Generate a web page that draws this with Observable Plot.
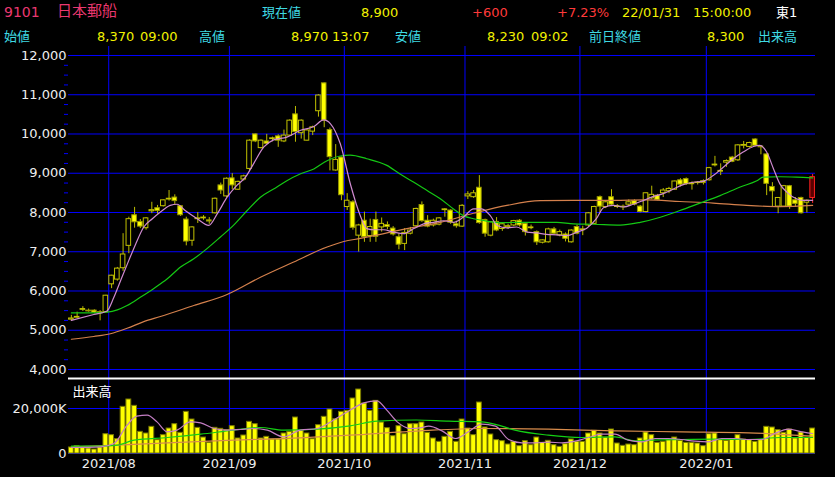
<!DOCTYPE html>
<html><head><meta charset="utf-8">
<script src="https://cdn.jsdelivr.net/npm/d3@7"></script>
<script src="https://cdn.jsdelivr.net/npm/@observablehq/plot@0.6"></script>
<style>
html,body{margin:0;padding:0;background:#000;width:835px;height:477px;overflow:hidden;}
#hdr{position:relative;width:835px;height:46px;font-family:"DejaVu Sans","Noto Sans CJK JP",sans-serif;font-size:13px;}
#hdr span{position:absolute;line-height:13px;white-space:pre;}
svg{display:block}
</style></head><body>
<div id="hdr"></div>
<div id="price"></div>
<div id="vol"></div>
<script>
// ---- data ----
const dates = ("2021/07/20 2021/07/21 2021/07/26 2021/07/27 2021/07/28 2021/07/29 2021/07/30 " +
"2021/08/02 2021/08/03 2021/08/04 2021/08/05 2021/08/06 2021/08/10 2021/08/11 2021/08/12 2021/08/13 2021/08/16 2021/08/17 2021/08/18 2021/08/19 2021/08/20 2021/08/23 2021/08/24 2021/08/25 2021/08/26 2021/08/27 2021/08/30 2021/08/31 " +
"2021/09/01 2021/09/02 2021/09/03 2021/09/06 2021/09/07 2021/09/08 2021/09/09 2021/09/10 2021/09/13 2021/09/14 2021/09/15 2021/09/16 2021/09/17 2021/09/21 2021/09/22 2021/09/24 2021/09/27 2021/09/28 2021/09/29 2021/09/30 " +
"2021/10/01 2021/10/04 2021/10/05 2021/10/06 2021/10/07 2021/10/08 2021/10/11 2021/10/12 2021/10/13 2021/10/14 2021/10/15 2021/10/18 2021/10/19 2021/10/20 2021/10/21 2021/10/22 2021/10/25 2021/10/26 2021/10/27 2021/10/28 2021/10/29 " +
"2021/11/01 2021/11/02 2021/11/04 2021/11/05 2021/11/08 2021/11/09 2021/11/10 2021/11/11 2021/11/12 2021/11/15 2021/11/16 2021/11/17 2021/11/18 2021/11/19 2021/11/22 2021/11/24 2021/11/25 2021/11/26 2021/11/29 2021/11/30 " +
"2021/12/01 2021/12/02 2021/12/03 2021/12/06 2021/12/07 2021/12/08 2021/12/09 2021/12/10 2021/12/13 2021/12/14 2021/12/15 2021/12/16 2021/12/17 2021/12/20 2021/12/21 2021/12/22 2021/12/23 2021/12/24 2021/12/27 2021/12/28 2021/12/29 2021/12/30 " +
"2022/01/04 2022/01/05 2022/01/06 2022/01/07 2022/01/11 2022/01/12 2022/01/13 2022/01/14 2022/01/17 2022/01/18 2022/01/19 2022/01/20 2022/01/21 2022/01/24 2022/01/25 2022/01/26 2022/01/27 2022/01/28 2022/01/31").split(" ");

const open = [5270,5320,5520,5500,5500,5460,5460,
6170,6290,6580,7150,7930,7760,7600,8030,8110,8160,8330,8380,8160,7820,7280,7830,7850,7800,7980,8690,8410,
8870,8580,8840,9110,9990,9640,9810,9870,9940,9810,9960,10500,10020,9830,10060,10580,11290,10100,9070,9400,
8140,8260,7410,7790,7400,7810,7620,7680,7590,7370,7200,7460,7650,8190,7790,7670,7690,8060,8050,7700,7640,
8410,8390,8630,7810,7410,7760,7580,7620,7670,7790,7710,7600,7500,7230,7240,7570,7420,7440,7240,7630,
7550,7670,7710,8390,8140,8390,8140,8150,8200,8290,8150,8010,8360,8430,8490,8540,8580,8820,8850,8720,8750,8800,
8820,9200,9040,9270,9400,9330,9700,9670,9860,9680,9480,8650,8150,8150,8670,8310,8370,8250,8370];
const high = [5380,5460,5600,5540,5520,5500,5890,
6400,6600,7460,7880,8130,7820,7870,8260,8180,8320,8560,8450,8170,7880,7640,8000,7920,7870,8370,8750,8880,
8990,8800,8950,9850,10000,9850,9990,9920,9980,10100,10360,10700,10360,10120,10200,11000,11300,10150,9730,9410,
8480,8300,7700,8010,7830,8010,7860,7760,7640,7460,7590,7620,8110,8270,7920,7830,7870,8100,8070,7780,8200,
8530,8560,8940,7830,7760,7870,7720,7700,7800,7820,7740,7680,7530,7300,7600,7620,7550,7480,7560,7680,
7650,8000,8160,8420,8300,8580,8200,8190,8320,8320,8180,8500,8670,8460,8610,8640,8800,8860,8880,8780,8790,8830,
9150,9430,9240,9340,9430,9730,9810,9790,9880,9700,9500,8760,8380,8690,8690,8380,8390,8320,8970];
const low = [5230,5300,5480,5460,5420,5240,5440,
6060,6250,6500,6950,7600,7590,7550,7970,7960,8140,8290,8200,7900,7150,7140,7720,7800,7700,7960,8460,8380,
8580,8560,8800,9060,9780,9620,9730,9800,9660,9780,9940,9790,9870,9820,9960,10430,10160,9060,9050,8300,
8050,7550,6990,7240,7240,7240,7500,7560,7400,7050,7030,7430,7600,7750,7610,7630,7660,7880,7700,7600,7620,
8330,8360,7700,7370,7380,7510,7520,7570,7640,7630,7400,7560,7160,7200,7220,7430,7380,7250,7220,7430,
7410,7640,7690,7980,8100,8180,8100,8050,8150,8170,7990,7990,8330,8300,8380,8480,8560,8650,8690,8570,8700,8700,
8800,9160,8940,9150,9270,9300,9620,9640,9680,9470,8430,8130,7970,8140,8080,8130,7960,7990,8230];
const close = [5300,5340,5540,5480,5450,5430,5880,
6390,6570,6930,7830,7750,7640,7850,8060,8040,8310,8350,8290,7930,7260,7620,7850,7870,7770,8350,8560,8860,
8690,8780,8920,9830,9810,9830,9750,9890,9830,9960,10340,10050,10340,10090,10170,10980,10340,9410,9340,8440,
8300,7610,7670,7370,7630,7380,7710,7630,7440,7180,7480,7540,8090,7780,7640,7790,7850,8080,7740,7650,8170,
8460,8490,7730,7460,7750,7540,7700,7650,7780,7670,7500,7620,7240,7290,7570,7460,7500,7330,7540,7460,
7570,7980,8140,8150,8260,8200,8160,8130,8260,8200,8010,8490,8450,8320,8560,8600,8790,8710,8720,8740,8760,8750,
9130,9220,9060,9310,9290,9710,9720,9770,9700,9660,8730,8540,8370,8670,8150,8220,7980,8300,8900];
// volume in thousands of shares (K)
const volumeK = [2670,3260,2670,2220,1780,2670,8590,
8150,6370,20740,24000,21180,9630,8890,11850,5930,8150,11100,13030,9190,18500,15100,11400,7100,4740,11400,10960,10370,
12150,6670,8000,14070,13030,6670,7400,6220,6220,8890,9630,16000,10070,8890,6370,12590,16300,19550,15250,18500,
18960,24440,28440,22220,18960,23400,13770,11260,7700,12150,8590,13030,13030,13770,9190,6670,5180,7400,9630,5180,15100,
11100,8150,22660,11550,8440,5930,5480,4000,5180,3260,5480,3700,7100,4740,5630,3700,2960,4150,6220,5180,
5180,8890,10070,8890,7100,10660,4440,3410,4000,3700,6670,9330,8150,4740,5180,5930,7100,5630,4740,4740,4440,3260,
8590,8890,5930,5630,6220,8150,6220,5930,5180,5930,11850,11550,10370,9190,10660,6670,9330,7100,11100];

// moving averages (position = candle index, value)
const priceMaShortPos = [0,3.9,6.2,7.4,8.8,10,11.2,12.6,14.1,15.5,17.2,18.4,19.8,21.9,23.9,25.4,27.1,28.8,30.3,31.7,33.5,35.2,37.5,39.8,42.2,43.9,45.1,46.8,48.6,50.2,51.4,52.6,54.3,56.1,57.8,59.6,61.3,63,64.8,66.5,68.2,70,71.4,72.9,74.1,75.8,77.5,79.3,81,82.7,84.5,86.2,88,89.7,91.4,92.6,94.3,96.1,97.8,99.6,101.3,103,104.8,106.5,108.2,110,111.7,113.5,115.2,116.9,118.7,119.8,121,122.2,123.3,124.5,126.2,127.4,129];
const priceMaShortVal = [5250,5400,5490,5840,6350,6780,7200,7630,7840,8010,8180,8210,8050,7840,7670,7970,8390,8690,8900,9240,9670,9850,9920,10090,10190,10360,10260,9750,8700,7950,7590,7560,7560,7500,7460,7590,7710,7750,7790,7750,7880,8090,8090,7920,7670,7610,7630,7500,7480,7440,7430,7410,7500,7600,7850,8120,8180,8140,8210,8310,8410,8480,8600,8710,8770,8800,8940,9160,9370,9540,9680,9710,9540,9110,8730,8520,8350,8310,8310];
const priceMaMidPos = [0,3.9,6.2,8,9.7,12,14.3,16.7,19,21.3,23.6,25.9,28.2,30.6,32.9,35.2,37.5,39.8,42.2,44.5,46.8,48.5,51.4,54.9,57.2,59.6,61.9,64.2,66.5,68.2,70,72.3,74.6,78.1,81.6,84.5,87.4,90.9,95.5,99,102.5,105.9,109.4,112.9,116.4,119.3,120.4,123.3,126.2,129];
const priceMaMidVal = [5440,5440,5460,5520,5630,5840,6060,6310,6610,6820,7080,7370,7670,8050,8390,8600,8810,8980,9110,9320,9440,9460,9370,9200,8980,8770,8560,8350,8090,7920,7840,7780,7740,7750,7750,7750,7710,7700,7680,7750,7880,8050,8240,8430,8650,8810,8900,8910,8900,8880];
const priceMaLongPos = [0,3.9,6.8,9.7,12.6,15.5,21.3,27.1,32.9,38.7,44.5,47.4,50.3,52.6,58.4,64.2,70,75.8,81.6,87.4,94.3,100.1,105.9,111.7,117.5,123.3,129];
const priceMaLongVal = [4770,4840,4910,5050,5220,5350,5630,5910,6350,6740,7120,7260,7340,7410,7590,7750,7980,8180,8300,8310,8310,8320,8280,8240,8180,8150,8180];

const volMaShortPos = [0,5.1,7.4,9.7,11.4,13.2,14.9,16.7,18.4,20.7,22.5,24.8,27.1,29.4,31.7,34.1,36.9,39.8,42.8,45.6,48.5,50.9,53.2,54.9,56.7,59,60.7,62.2,64.5,66.8,69.1,71.4,73.8,76.1,78.4,80.7,83,85.4,87.7,90,92.3,94.6,96.9,99.3,101.6,103.9,106.2,108.5,110.9,113.2,115.5,117.8,120.1,122.4,124.8,127.1,129];
const volMaShortVal = [2670,2960,4440,12590,16590,17030,14070,9630,10370,14070,13630,11110,10370,10660,11110,10370,7400,10370,11110,14810,19250,22510,23400,19250,14070,11110,11400,12150,10070,6670,9630,13030,12150,6220,4740,4740,5040,4740,5480,7110,8590,8590,5920,5180,6670,6670,6220,5480,5180,6670,6670,6220,6220,8890,10810,9630,8890];
const volMaMidPos = [0,5.1,8,10.9,16.7,22.5,28.2,32.9,36.9,42.8,48.5,53.2,60,65.7,71.4,74.3,77.2,83,88.8,94.6,98.1,100.4,106.2,112,117.8,123.6,129];
const volMaMidVal = [3260,3260,3700,5920,7110,8590,10370,11550,10370,10810,12290,14370,14900,14370,14070,12590,10370,8150,7110,7400,5630,5920,6220,6370,6220,7110,7110];
const volMaLongPos = [0,8,16.7,28.2,39.8,48.5,60.7,71.4,83,94.6,106.2,117.8,129];
const volMaLongVal = [2960,3700,4740,5920,6960,8150,10070,11110,10810,10070,9630,9190,7700];

const priceTicks = [4000,5000,6000,7000,8000,9000,10000,11000,12000];
const volumeTicks = [0, 20000];

// ---- header (quote board) ----
const CYAN = "#3fd9e2", YEL = "#f2f200", RED = "#ff3a3a", NAME = "#ea3870";
const header = [
  ["9101", 4, 17, NAME, 14], ["日本郵船", 57, 17, NAME, 15], ["現在値", 262, 17, CYAN, 13],
  ["8,900", 361, 17, YEL, 13], ["+600", 472, 17, RED, 13], ["+7.23%", 557, 17, RED, 13],
  ["22/01/31", 622, 17, YEL, 13], ["15:00:00", 693, 17, YEL, 13], ["東1", 776, 17, "#ffffff", 13],
  ["始値", 4, 41, CYAN, 13], ["8,370", 97, 41, YEL, 13], ["09:00", 140, 41, YEL, 13],
  ["高値", 199, 41, CYAN, 13], ["8,970", 291, 41, YEL, 13], ["13:07", 332, 41, YEL, 13],
  ["安値", 395, 41, CYAN, 13], ["8,230", 487, 41, YEL, 13], ["09:02", 531, 41, YEL, 13],
  ["前日終値", 589, 41, CYAN, 13], ["8,300", 707, 41, YEL, 13], ["出来高", 758, 41, CYAN, 13]
];
const hdr = document.getElementById("hdr");
for (const [t, x, base, c, s] of header) {
  const sp = document.createElement("span");
  sp.textContent = t;
  sp.style.left = x + "px";
  sp.style.top = (base - Math.round(s * 0.85)) + "px";
  sp.style.color = c;
  sp.style.fontSize = s + "px";
  sp.style.lineHeight = s + "px";
  hdr.appendChild(sp);
}

// ---- chart ----
const candles = dates.map((d, i) => ({i, date: d, open: open[i], high: high[i], low: low[i], close: close[i], vol: volumeK[i]}));
const monthStarts = candles.filter((d, i) => i > 0 && d.date.slice(0, 7) !== candles[i - 1].date.slice(0, 7)).map(d => d.i);
const series = (pos, val) => pos.map((p, k) => ({x: p + 0.5, y: val[k]}));
const last = candles.length - 1;
const BLUE = "#0000ff";
const W = 835, ML = 68, MR = 20;
const bodyFill = d => d.i === last ? "#5a0000" : d.close >= d.open ? "#000000" : "#ffff00";
const bodyStroke = d => d.i === last ? "#ff2020" : d.close >= d.open ? "#c2c200" : "#9a9a00";
const wickStroke = d => d.i === last ? "#ff2020" : "#bcbc00";
const minorTicks = d3.range(4000, 12250, 250).filter(v => v % 1000 !== 0);
const textStyle = {background: "#000", color: "#eeeeee", fontFamily: "DejaVu Sans, sans-serif", fontSize: "13px"};

const price = Plot.plot({
  width: W, height: 331, marginLeft: ML, marginRight: MR, marginTop: 0, marginBottom: 0,
  style: textStyle,
  x: {domain: [0, candles.length], axis: null},
  y: {domain: [3796, 12229], axis: null},
  marks: [
    Plot.ruleY(priceTicks, {stroke: BLUE, strokeWidth: 1}),
    Plot.ruleX(monthStarts, {stroke: BLUE, strokeWidth: 1}),
    Plot.axisY({ticks: minorTicks, tickSize: 4, tickFormat: () => "", stroke: BLUE, label: null}),
    Plot.axisY({ticks: priceTicks, tickSize: 0, tickPadding: 2, tickFormat: d3.format(","), fill: "#eeeeee", fontSize: 13, label: null}),
    Plot.ruleX(candles, {x: d => d.i + 0.5, y1: "low", y2: "high", stroke: wickStroke, strokeWidth: 1}),
    Plot.rect(candles, {x1: d => d.i + 0.1, x2: d => d.i + 0.9, y1: "open", y2: "close", fill: bodyFill, stroke: bodyStroke, strokeWidth: 1}),
    Plot.line(series(priceMaLongPos, priceMaLongVal), {x: "x", y: "y", stroke: "#d4804c", strokeWidth: 1.2, curve: "monotone-x"}),
    Plot.line(series(priceMaMidPos, priceMaMidVal), {x: "x", y: "y", stroke: "#14c814", strokeWidth: 1.2, curve: "monotone-x"}),
    Plot.line(series(priceMaShortPos, priceMaShortVal), {x: "x", y: "y", stroke: "#d08ad0", strokeWidth: 1.2, curve: "monotone-x"})
  ]
});
document.getElementById("price").appendChild(price);

const VOLMAX = 33780;
const vol = Plot.plot({
  width: W, height: 100, marginLeft: ML, marginRight: MR, marginTop: 0, marginBottom: 24,
  style: textStyle,
  x: {domain: [0, candles.length], axis: null},
  y: {domain: [0, VOLMAX], axis: null},
  marks: [
    Plot.ruleY(volumeTicks, {stroke: BLUE, strokeWidth: 1}),
    Plot.ruleX(monthStarts, {stroke: BLUE, strokeWidth: 1}),
    Plot.rect(candles, {x1: d => d.i + 0.08, x2: d => d.i + 0.92, y1: 0, y2: "vol", fill: "#ffff00", stroke: "#7a7a00", strokeWidth: 1}),
    Plot.line(series(volMaLongPos, volMaLongVal), {x: "x", y: "y", stroke: "#d88c4c", strokeWidth: 1.2, curve: "monotone-x"}),
    Plot.line(series(volMaMidPos, volMaMidVal), {x: "x", y: "y", stroke: "#14d014", strokeWidth: 1.2, curve: "monotone-x"}),
    Plot.line(series(volMaShortPos, volMaShortVal), {x: "x", y: "y", stroke: "#c47ec4", strokeWidth: 1.2, curve: "monotone-x"}),
    Plot.ruleY([VOLMAX], {stroke: "#ffffff", strokeWidth: 2, dy: 1}),
    Plot.text(["出来高"], {text: d => d, frameAnchor: "top-left", dx: 4, dy: 9, lineAnchor: "top", textAnchor: "start", fill: "#ffffff", fontSize: 13, fontFamily: "Noto Sans CJK JP"}),
    Plot.axisY({ticks: volumeTicks, tickSize: 0, tickPadding: 2, tickFormat: v => v === 0 ? "0" : d3.format(",")(v) + "K", fill: "#eeeeee", fontSize: 13, label: null}),
    Plot.axisX({ticks: monthStarts, tickSize: 0, tickPadding: 5, tickFormat: i => dates[i].slice(0, 7), fill: "#eeeeee", fontSize: 13, label: null})
  ]
});
document.getElementById("vol").appendChild(vol);
</script>
</body></html>
